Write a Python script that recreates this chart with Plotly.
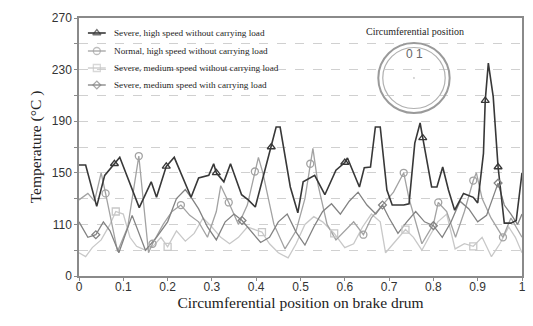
import plotly.graph_objects as go

# ---------------- data ----------------
s1_x = [0, 0.015, 0.04, 0.058, 0.08, 0.092, 0.136, 0.163, 0.175, 0.197, 0.215, 0.253, 0.27, 0.293,
        0.304, 0.31, 0.327, 0.342, 0.367, 0.382, 0.398, 0.416, 0.434, 0.445, 0.454, 0.477, 0.494,
        0.506, 0.532, 0.555, 0.58, 0.6, 0.606, 0.633, 0.644, 0.658, 0.669, 0.68, 0.695, 0.707, 0.733,
        0.745, 0.758, 0.77, 0.776, 0.796, 0.808, 0.821, 0.834, 0.848, 0.868, 0.89, 0.9, 0.913, 0.917,
        0.924, 0.935, 0.946, 0.96, 0.975, 0.987, 1.0]
s1_y = [156, 156, 124, 148, 157, 162, 123, 143, 131, 155, 162, 131, 146, 148,
        157, 150, 143, 157, 133, 129, 123.5, 147, 170, 185.5, 185.5, 139, 119,
        143, 148, 133, 152, 158, 161.5, 139, 154, 154.5, 185.5, 185.5, 136.7, 125, 125,
        126, 173, 188.6, 177, 139, 139, 154.5, 136.7, 121, 134, 131, 126.6, 165, 206,
        235, 209, 154.5, 111, 111, 113, 150]
s1_marks = [0.08, 0.197, 0.31, 0.434, 0.6, 0.776, 0.917, 0.946]

s2_x = [0, 0.02, 0.035, 0.05, 0.06, 0.087, 0.11, 0.135, 0.157, 0.166, 0.19, 0.21, 0.23, 0.25, 0.27,
        0.29, 0.31, 0.32, 0.338, 0.36, 0.38, 0.397, 0.405, 0.415, 0.44, 0.465, 0.49, 0.51, 0.522,
        0.528, 0.54, 0.56, 0.58, 0.6, 0.62, 0.642, 0.66, 0.685, 0.71, 0.733, 0.745, 0.774, 0.8,
        0.811, 0.83, 0.85, 0.87, 0.89, 0.897, 0.91, 0.93, 0.957, 0.975, 1.0]
s2_y = [129, 134, 128, 150, 134, 89, 108, 163, 88, 95, 110, 120, 125, 117, 112,
        100, 120, 140, 127, 110, 125, 151, 162, 150, 110, 91, 105, 130, 157,
        169, 140, 110, 98, 105, 112, 102, 115, 125, 135, 150, 130, 95, 110,
        127, 120, 100, 120, 144, 150, 130, 115, 100, 115, 100]
s2_marks = [0.06, 0.135, 0.166, 0.23, 0.338, 0.397, 0.522, 0.642, 0.733, 0.811, 0.89, 0.957]

s3_x = [0, 0.015, 0.03, 0.05, 0.07, 0.083, 0.1, 0.115, 0.13, 0.15, 0.17, 0.185, 0.2, 0.22, 0.24,
        0.26, 0.28, 0.3, 0.32, 0.34, 0.36, 0.38, 0.413, 0.43, 0.45, 0.472, 0.49, 0.51, 0.53, 0.55,
        0.576, 0.6, 0.62, 0.64, 0.66, 0.68, 0.692, 0.71, 0.737, 0.755, 0.774, 0.79, 0.81, 0.83,
        0.849, 0.87, 0.89, 0.91, 0.931, 0.95, 0.97, 0.985, 1.0]
s3_y = [88, 85, 92, 98, 110, 120, 118, 100, 93, 90, 94, 100, 92.6, 105, 97,
        103, 115, 108, 100, 95, 100, 108, 104, 95, 88, 84, 95, 110, 116, 112,
        103, 92, 95, 108, 118, 112, 88, 95, 106, 100, 90, 100, 112, 118,
        91, 95, 93, 100, 85, 95, 108, 100, 88]
s3_marks = [0.083, 0.2, 0.413, 0.576, 0.737, 0.89]

s4_x = [0, 0.02, 0.038, 0.055, 0.07, 0.09, 0.12, 0.15, 0.175, 0.2, 0.22, 0.24, 0.255, 0.27, 0.29,
        0.31, 0.33, 0.35, 0.368, 0.39, 0.41, 0.43, 0.45, 0.47, 0.49, 0.51, 0.53, 0.55, 0.57, 0.59,
        0.61, 0.63, 0.65, 0.67, 0.685, 0.7, 0.72, 0.74, 0.76, 0.78, 0.8, 0.82, 0.84, 0.86, 0.88,
        0.9, 0.92, 0.946, 0.96, 0.975, 0.99, 1.0]
s4_y = [112, 100, 102, 112, 105, 88, 117, 90, 100, 112, 130, 137, 130, 122, 108,
        98, 112, 118, 113, 104, 96, 100, 112, 118, 104, 94, 108, 120, 126, 118,
        128, 135, 125, 118, 125, 115, 103, 112, 120, 112, 109, 100, 112, 128, 122,
        112, 117, 142, 125, 118, 110, 118]
s4_marks = [0.038, 0.25, 0.368, 0.54, 0.685, 0.8, 0.946]

names = ["Severe, high speed without carrying load",
         "Normal, high speed without carrying load",
         "Severe, medium speed without carrying load",
         "Severe, medium speed with carrying load"]

x_ticks = [0, 0.1, 0.2, 0.3, 0.4, 0.5, 0.6, 0.7, 0.8, 0.9, 1]
x_ticktext = ["0", "0.1", "0.2", "0.3", "0.4", "0.5", "0.6", "0.7", "0.8", "0.9", "1"]
y_ticks = [70, 110, 150, 190, 230, 270]
y_ticktext = ["0", "110", "150", "190", "230", "270"]
y_minor = [90, 130, 170, 210, 250]

# ---------------- styles ----------------
styles = [
    dict(color="#383838", width=1.6, symbol="triangle-up-open", size=7),
    dict(color="#a2a2a2", width=1.3, symbol="circle-open", size=7),
    dict(color="#c8c8c8", width=1.3, symbol="square-open", size=7),
    dict(color="#828282", width=1.3, symbol="diamond-open", size=6),
]

series = [(s1_x, s1_y, s1_marks), (s2_x, s2_y, s2_marks), (s3_x, s3_y, s3_marks), (s4_x, s4_y, s4_marks)]

L, R, T, B = 79, 7, 18, 50
W, H = 533, 326

fig = go.Figure()
for idx in [2, 1, 3, 0]:
    xs, ys, marks = series[idx]
    st = styles[idx]
    fig.add_trace(go.Scatter(x=xs, y=ys, mode="lines", showlegend=False,
                             line=dict(color=st["color"], width=st["width"]),
                             hoverinfo="skip"))
for idx in [2, 1, 3, 0]:
    xs, ys, marks = series[idx]
    st = styles[idx]
    mx = [x for x in xs if x in marks]
    my = [y for x, y in zip(xs, ys) if x in marks]
    fig.add_trace(go.Scatter(x=mx, y=my, mode="markers", showlegend=False,
                             marker=dict(symbol=st["symbol"], size=st["size"], color=st["color"],
                                         line=dict(width=1.3, color=st["color"])),
                             hoverinfo="skip"))

# ---- hand-built legend on a pixel-space overlay axis ----
leg_y = [33, 51, 68, 85]
for idx in range(4):
    st = styles[idx]
    fig.add_trace(go.Scatter(x=[88, 97, 106], y=[leg_y[idx]] * 3, xaxis="x2", yaxis="y2",
                             mode="lines+markers", showlegend=False, hoverinfo="skip",
                             line=dict(color=st["color"], width=st["width"]),
                             marker=dict(symbol=st["symbol"], size=[0, st["size"], 0], color=st["color"],
                                         line=dict(width=1.3, color=st["color"]))))
    fig.add_annotation(x=112, y=leg_y[idx], xref="x2", yref="y2", text=names[idx],
                       xanchor="left", yanchor="middle", showarrow=False,
                       font=dict(family="Liberation Serif", size=9.2, color="#1e1e1e"))

# ---- circumferential position inset ----
cx, cy = 417, 78
fig.add_shape(type="circle", xref="x2", yref="y2", x0=cx - 36, x1=cx + 36, y0=cy - 35, y1=cy + 35,
              line=dict(color="#9a9a9a", width=2))
fig.add_shape(type="circle", xref="x2", yref="y2", x0=cx - 31.5, x1=cx + 31.5, y0=cy - 30.5, y1=cy + 30.5,
              line=dict(color="#b0b0b0", width=1.2))
fig.add_shape(type="circle", xref="x2", yref="y2", x0=cx - 0.6, x1=cx + 0.6, y0=cy - 0.6, y1=cy + 0.6,
              line=dict(color="#bbbbbb", width=0.8))
fig.add_annotation(x=418, y=31, xref="x2", yref="y2", text="Circumferential position",
                   showarrow=False, font=dict(family="Liberation Serif", size=10, color="#1e1e1e"))
fig.add_annotation(x=418, y=54, xref="x2", yref="y2", text="0 1",
                   showarrow=False, font=dict(family="Liberation Sans", size=12, color="#666"))

fig.update_layout(
    width=W, height=H,
    margin=dict(l=L, r=R, t=T, b=B, pad=0),
    paper_bgcolor="white", plot_bgcolor="white",
    showlegend=False,
    xaxis=dict(range=[0, 1], tickvals=x_ticks, ticktext=x_ticktext,
               showgrid=False, zeroline=False,
               showline=True, linecolor="#8a8a8a", linewidth=1.5, mirror=True,
               ticks="outside", ticklen=3, tickcolor="#8a8a8a", ticklabelstandoff=-4,
               tickfont=dict(family="Liberation Sans", size=12, color="#333"),
               title=dict(text="Circumferential position on brake drum",
                          font=dict(family="Liberation Serif", size=15.5, color="#222"),
                          standoff=4)),
    yaxis=dict(range=[70, 270], tickvals=y_ticks, ticktext=y_ticktext,
               showgrid=True, gridcolor="#d0d0d0", griddash="dash", gridwidth=1,
               zeroline=False,
               showline=True, linecolor="#8a8a8a", linewidth=1.5, mirror=True,
               ticks="outside", ticklen=3, tickcolor="#8a8a8a",
               minor=dict(tickvals=y_minor, ticks="outside", ticklen=3, tickcolor="#8a8a8a",
                          showgrid=True, gridcolor="#d0d0d0", griddash="dash", gridwidth=1),
               tickfont=dict(family="Liberation Sans", size=12, color="#333"),
               title=dict(text="Temperature (°C )",
                          font=dict(family="Liberation Serif", size=15.5, color="#222"),
                          standoff=6)),
    xaxis2=dict(overlaying="x", range=[L, W - R], visible=False, fixedrange=True),
    yaxis2=dict(overlaying="y", range=[H - B, T], visible=False, fixedrange=True),
)

fig.write_html("out.html")
